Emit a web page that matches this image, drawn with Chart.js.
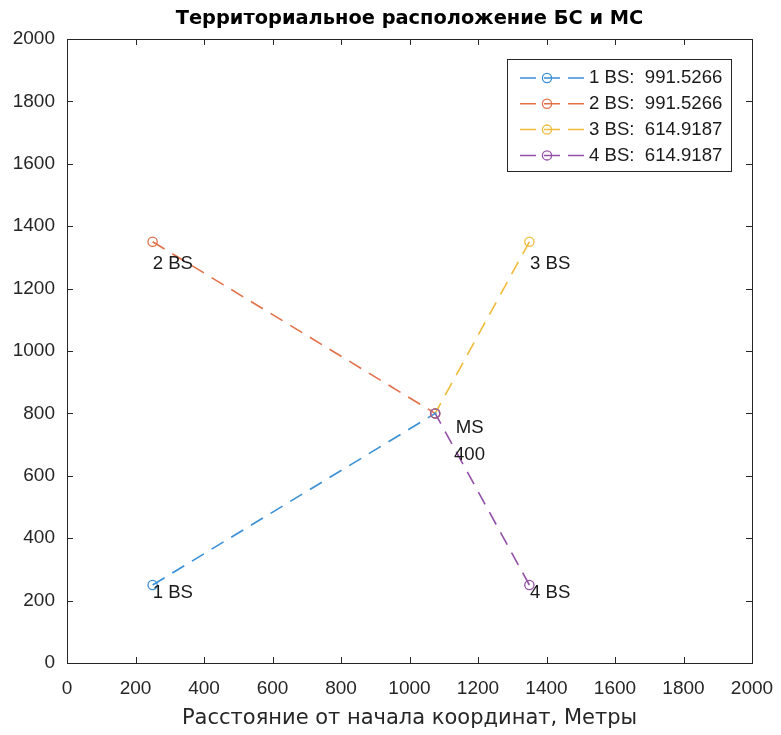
<!DOCTYPE html>
<html>
<head>
<meta charset="utf-8">
<script src="https://cdn.jsdelivr.net/npm/chart.js@4.4.1/dist/chart.umd.min.js"></script>
<style>
  html, body { margin: 0; padding: 0; background: #fff; }
  #wrap { width: 781px; height: 735px; }
</style>
</head>
<body>
<div id="wrap"><canvas id="bsChart" width="781" height="735"></canvas></div>
<script>
// координаты БС и МС
const bsX = [250, 250, 1350, 1350];
const bsY = [250, 1350, 1350, 250];
const msX = [1075];
const msY = [800];
const seriesColors = ['#3a8fd6', '#e2714a', '#efbb3a', '#9350a8'];
const legendLabels = ['1 BS:  991.5266', '2 BS:  991.5266', '3 BS:  614.9187', '4 BS:  614.9187'];
const xTicks = [0, 200, 400, 600, 800, 1000, 1200, 1400, 1600, 1800, 2000];
const yTicks = [0, 200, 400, 600, 800, 1000, 1200, 1400, 1600, 1800, 2000];
// подписи точек
const noteText = ['1 BS', '2 BS', '3 BS', '4 BS', 'MS', '400'];
const noteX = [250, 250, 1352, 1352, 1135, 1130];
const noteY = [226, 1280, 1280, 226, 755, 668];

const FONT = '"Liberation Sans", Arial, Helvetica, sans-serif';
const CYR = '"DejaVu Sans", "Liberation Sans", sans-serif';
const AXIS = '#262626';

const datasets = bsX.map((x, i) => ({
    label: legendLabels[i],
    data: [{ x: x, y: bsY[i] }, { x: msX[0], y: msY[0] }],
    showLine: true,
    borderColor: seriesColors[i],
    borderWidth: 1.6,
    borderDash: [14, 9],
    pointRadius: 4.6,
    pointBorderWidth: 1.3,
    pointBorderColor: seriesColors[i],
    pointBackgroundColor: 'rgba(0,0,0,0)',
    order: 4 - i
}));
// точка МС
datasets.push({
    label: 'MS',
    data: [{ x: msX[0], y: msY[0] }],
    pointRadius: 1.2,
    pointBorderWidth: 0,
    pointBackgroundColor: '#3a8fd6',
    order: 0
});

// рамка, внутренние засечки, подписи и легенда
const boxPlugin = {
    id: 'boxPlugin',
    afterDraw(chart) {
        const ctx = chart.ctx;
        const a = chart.chartArea;
        const xs = chart.scales.x, ys = chart.scales.y;
        ctx.save();
        ctx.strokeStyle = AXIS;
        ctx.lineWidth = 1;
        ctx.setLineDash([]);
        ctx.strokeRect(Math.round(a.left) + 0.5, Math.round(a.top) + 0.5,
            Math.round(a.right - a.left), Math.round(a.bottom - a.top));
        ctx.beginPath();
        xTicks.forEach(v => {
            const px = Math.round(xs.getPixelForValue(v)) + 0.5;
            ctx.moveTo(px, a.bottom); ctx.lineTo(px, a.bottom - 6);
            ctx.moveTo(px, a.top); ctx.lineTo(px, a.top + 6);
        });
        yTicks.forEach(v => {
            const py = Math.round(ys.getPixelForValue(v)) + 0.5;
            ctx.moveTo(a.left, py); ctx.lineTo(a.left + 6, py);
            ctx.moveTo(a.right, py); ctx.lineTo(a.right - 6, py);
        });
        ctx.stroke();

        // подписи у точек
        ctx.fillStyle = '#1a1a1a';
        ctx.font = '18.6px ' + FONT;
        ctx.textBaseline = 'middle';
        ctx.textAlign = 'left';
        noteText.forEach((t, i) => {
            ctx.fillText(t, xs.getPixelForValue(noteX[i]), ys.getPixelForValue(noteY[i]));
        });

        // легенда
        const lx = 507, ly = 59, lw = 224, lh = 112;
        ctx.fillStyle = '#fff';
        ctx.fillRect(lx, ly, lw, lh);
        ctx.strokeStyle = AXIS;
        ctx.lineWidth = 1;
        ctx.strokeRect(lx + 0.5, ly + 0.5, lw, lh);
        legendLabels.forEach((t, i) => {
            const cy = 78 + i * 25.8;
            ctx.strokeStyle = seriesColors[i];
            ctx.lineWidth = 1.5;
            ctx.setLineDash([16, 8]);
            ctx.beginPath();
            ctx.moveTo(520, cy); ctx.lineTo(584, cy);
            ctx.stroke();
            ctx.setLineDash([]);
            ctx.lineWidth = 1.3;
            ctx.beginPath();
            ctx.arc(547, cy, 4.6, 0, Math.PI * 2);
            ctx.stroke();
            ctx.fillStyle = '#1a1a1a';
            ctx.fillText(t, 589, cy);
        });
        ctx.restore();
    }
};

new Chart(document.getElementById('bsChart').getContext('2d'), {
    type: 'scatter',
    data: { datasets: datasets },
    options: {
        responsive: false,
        animation: false,
        layout: { padding: { left: 0, right: 0, top: 0, bottom: 2 } },
        plugins: {
            legend: { display: false },
            tooltip: { enabled: false },
            title: {
                display: true,
                text: 'Территориальное расположение БС и МС',
                fullSize: false,
                color: '#000',
                font: { family: CYR, size: 19.4, weight: 'bold' },
                padding: { top: 7, bottom: 8.7 }
            }
        },
        scales: {
            x: {
                type: 'linear',
                min: 0,
                max: 2000,
                afterBuildTicks: s => { s.ticks = xTicks.map(v => ({ value: v })); },
                afterFit: s => { s.height = 70; s.paddingLeft = 0; s.paddingRight = 29; },
                grid: { display: false, drawTicks: false },
                border: { display: false },
                ticks: {
                    color: AXIS,
                    padding: 14,
                    maxRotation: 0,
                    font: { family: FONT, size: 19 },
                    callback: v => String(v)
                },
                title: {
                    display: true,
                    text: 'Расстояние от начала координат, Метры',
                    color: AXIS,
                    font: { family: CYR, size: 21 },
                    padding: { top: 4, bottom: 2 }
                }
            },
            y: {
                type: 'linear',
                min: 0,
                max: 2000,
                afterBuildTicks: s => { s.ticks = yTicks.map(v => ({ value: v })); },
                afterFit: s => { s.width = 67; },
                grid: { display: false, drawTicks: false },
                border: { display: false },
                ticks: {
                    color: AXIS,
                    padding: 12,
                    font: { family: FONT, size: 19 },
                    callback: v => String(v)
                }
            }
        }
    },
    plugins: [boxPlugin]
});
</script>
</body>
</html>
